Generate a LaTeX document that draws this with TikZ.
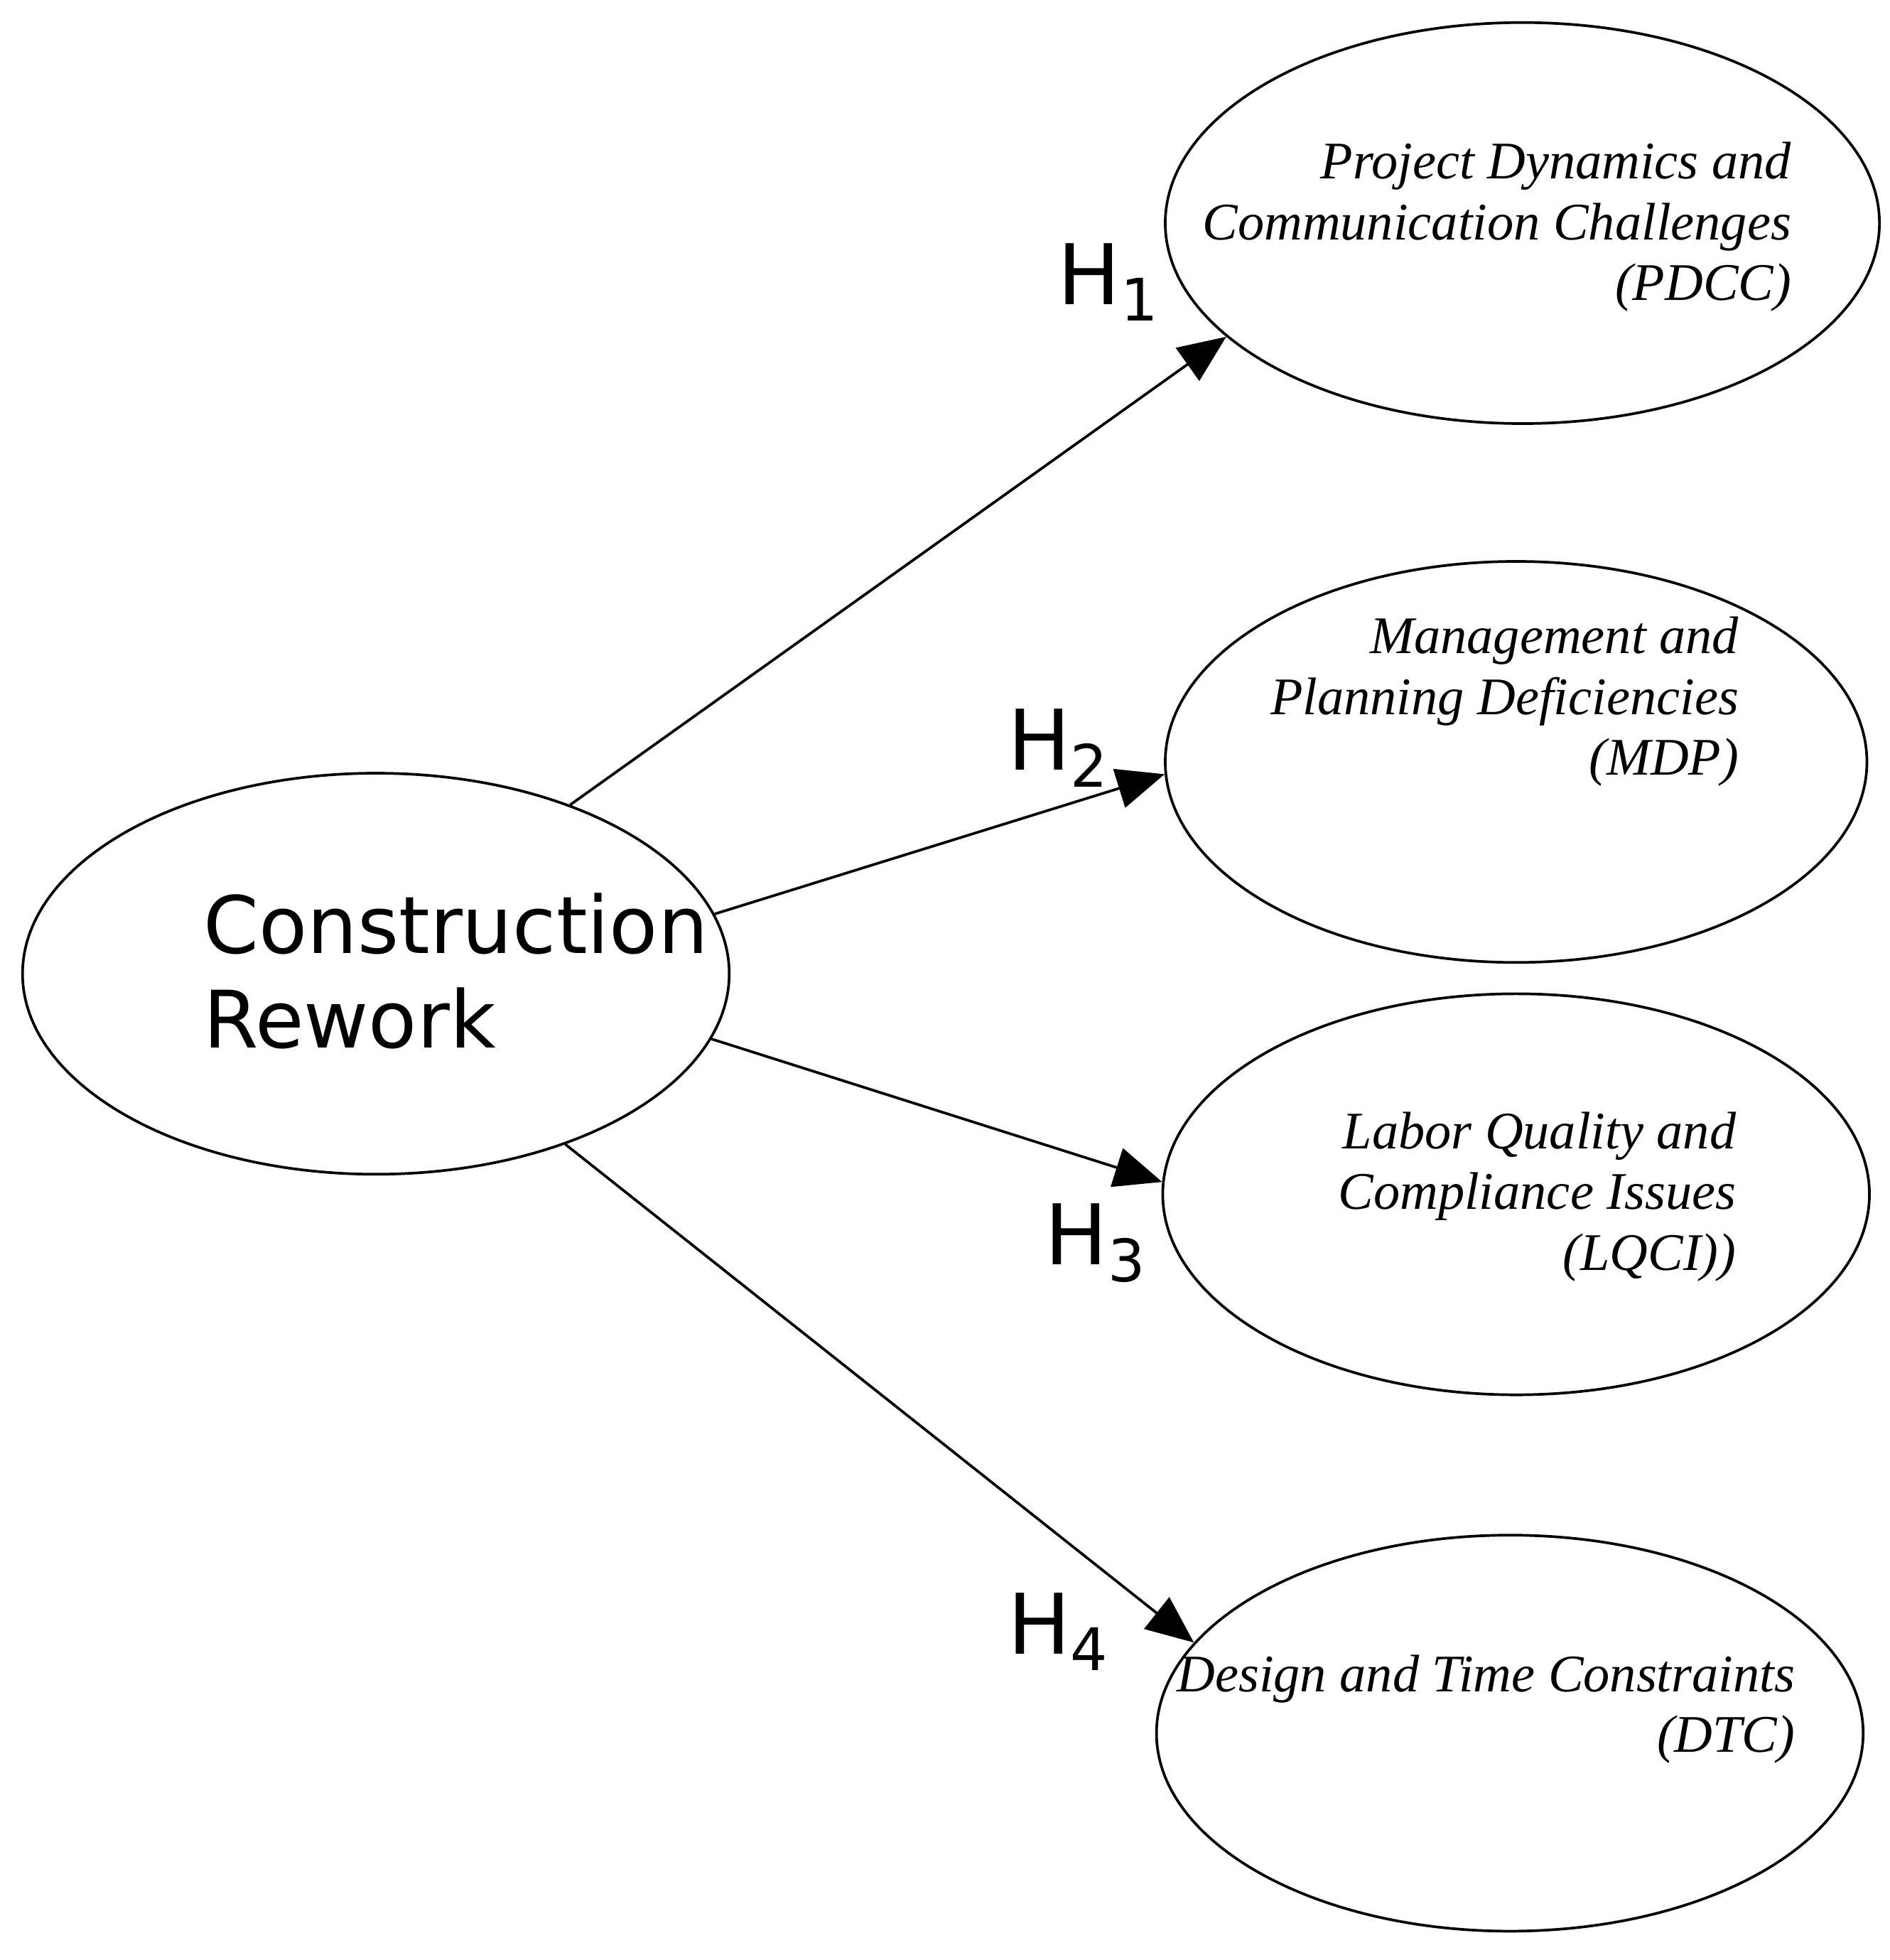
\documentclass[tikz,border=0pt]{standalone}
\usepackage{fontspec}
\setmainfont{Liberation Serif}
\newfontfamily\labelfont{DejaVu Sans}
\usetikzlibrary{shapes.geometric,arrows.meta}

\tikzset{
	blob/.style={draw,ellipse,line width=0.6pt,inner sep=0pt},
	factor/.style={align=right,anchor=east,font=\fontsize{12}{13.8}\selectfont\itshape},
	hyp/.style={font=\labelfont\fontsize{19}{20}\selectfont},
	link/.style={line width=0.6pt,-{Triangle[length=0.38cm,width=0.32cm]}}
}

\begin{document}
\begin{tikzpicture}
	\useasboundingbox (0,0) rectangle (15.08,15.64);
	% ellipses
	\node[blob,minimum width=5.64cm,minimum height=3.2cm] (cr) at (3.00,7.87) {};
	\node[blob,minimum width=5.7cm,minimum height=3.2cm] (pdcc) at (12.15,13.86) {};
	\node[blob,minimum width=5.6cm,minimum height=3.2cm] (mdp) at (12.10,9.56) {};
	\node[blob,minimum width=5.64cm,minimum height=3.2cm] (lqci) at (12.10,6.11) {};
	\node[blob,minimum width=5.64cm,minimum height=3.16cm] (dtc) at (12.05,1.81) {};
	% texts
	\node[align=left,anchor=west,font=\labelfont\fontsize{18}{21.5}\selectfont] (crtext) at (1.50,7.89) {Construction\\Rework};
	\node[factor] (pdcctext) at (14.42,13.83) {Project Dynamics and\\Communication Challenges\\(PDCC)};
	\node[factor] (mdptext) at (14.00,10.04) {Management and\\Planning Deficiencies\\(MDP)};
	\node[factor] (lqcitext) at (13.98,6.09) {Labor Quality and\\Compliance Issues\\(LQCI))};
	\node[factor] (dtctext) at (14.45,2.00) {Design and Time Constraints\\(DTC)};
	% hypotheses
	\draw[link] (cr.41) -- (pdcc.201);
	\draw[link] (cr.10.5) -- (mdp.182);
	\draw[link] (cr.-11) -- (lqci.178);
	\draw[link] (cr.-42) -- (dtc.164);
	\node[hyp] (h1) at (8.85,13.39) {H\textsubscript{1}};
	\node[hyp] (h2) at (8.45,9.67) {H\textsubscript{2}};
	\node[hyp] (h3) at (8.75,5.72) {H\textsubscript{3}};
	\node[hyp] (h4) at (8.45,2.62) {H\textsubscript{4}};
\end{tikzpicture}
\end{document}
